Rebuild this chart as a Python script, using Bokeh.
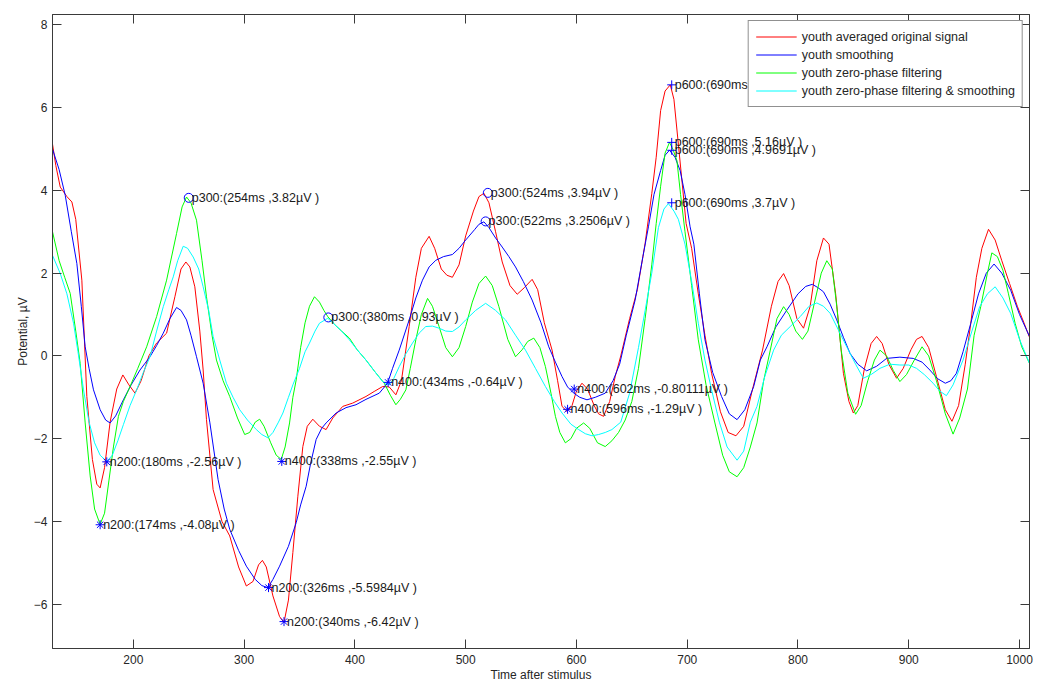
from bokeh.plotting import figure
from bokeh.models import (LinearAxis, FixedTicker, Range1d, Legend, LegendItem,
                          ColumnDataSource)
from bokeh.core.properties import value
from bokeh.embed import file_html
from bokeh.resources import INLINE

# ---------------- data ----------------
orig_t = [127, 130, 134, 140, 144.5, 148, 153.5, 158, 163, 167, 170, 174, 179, 185, 190.5, 196, 201.5,
          207, 214, 221, 230, 237.5, 243, 247.4, 251, 255.5, 260, 263, 266, 272, 280, 287, 295, 302,
          308, 313, 316.5, 320, 326, 332, 336, 340, 344, 348.5, 353, 357, 362, 368, 374, 380, 389, 398,
          410, 418, 425, 431, 437, 442, 449, 455, 460, 467, 472, 478, 483, 488, 494, 500, 507, 512,
          516.5, 521, 527, 533, 540, 546.5, 553, 560, 565, 571, 578, 583, 587, 591.5, 596, 600, 605,
          610, 616, 620, 624.5, 630, 635, 640, 648, 655, 662, 668, 672, 676, 680, 684.7, 688, 692, 699,
          704, 710, 716, 722, 730, 737, 744, 751, 759, 768, 776, 782, 787, 792, 799, 805, 811, 817,
          823, 828, 834, 841, 846, 850, 854, 860, 866, 871, 876, 882, 889, 895, 902, 907, 912, 918,
          925, 933, 939, 945, 951, 956, 961, 966, 972, 978, 984, 991, 998, 1004, 1009]
orig_v = [5.12, 4.6, 4.08, 3.85, 3.72, 3.3, 1.83, -0.98, -2.5, -3.1, -3.19, -2.7, -1.6, -0.8, -0.46, -0.7,
          -0.9, -0.6, 0.0, 0.31, 0.55, 1.43, 2.1, 2.27, 2.15, 1.67, 0.6, -0.34, -1.54, -3.23, -4.0, -4.35,
          -5.1, -5.56, -5.45, -5.05, -4.94, -5.1, -5.8, -6.3, -6.44, -5.9, -4.75, -3.39, -2.19, -1.7,
          -1.53, -1.7, -1.78, -1.5, -1.22, -1.14, -0.98, -0.85, -0.74, -0.75, -0.94, -0.6, 0.71, 1.9,
          2.6, 2.89, 2.6, 2.1, 1.95, 1.9, 2.2, 2.9, 3.5, 3.85, 3.93, 3.7, 3.0, 2.27, 1.7, 1.49, 1.65,
          1.85, 1.6, 0.8, 0.14, -0.6, -1.22, -1.34, -1.2, -0.85, -0.66, -0.8, -1.2, -1.4, -1.46, -1.1,
          -0.5, 0.0, 0.9, 1.6, 2.72, 3.92, 4.8, 5.93, 6.4, 6.55, 6.2, 5.12, 3.2, 2.6, 1.5, 0.5, -0.42,
          -1.35, -1.85, -1.93, -1.7, -0.8, 0.14, 1.2, 1.8, 1.99, 1.7, 0.9, 0.67, 1.2, 2.3, 2.85, 2.7,
          1.5, -0.42, -1.1, -1.38, -1.2, -0.3, 0.3, 0.47, 0.3, -0.2, -0.54, -0.3, 0.15, 0.4, 0.47, 0.2,
          -0.5, -1.3, -1.58, -1.2, -0.2, 0.79, 1.9, 2.6, 3.06, 2.8, 2.3, 1.75, 1.2, 0.8, 0.45]

smooth_t = [127, 133, 138.5, 144, 149, 153, 156.5, 160, 164, 170, 175, 179, 184, 191, 198, 206, 215, 221,
            227, 233, 239, 243, 248, 252, 257, 263, 269, 276.5, 282, 287, 295, 302, 310, 316, 321.5,
            326, 332, 340, 347, 351, 356, 360, 365, 370, 374, 383, 392, 401, 410, 422, 429.5, 434, 440,
            449, 455, 461, 467, 473, 480, 488, 494, 500, 508, 512, 516.5, 521, 527, 533, 539, 545, 552,
            560, 568, 575, 581, 587, 592, 597.6, 603, 609.5, 617, 626, 633, 639, 645, 653, 660, 665, 670,
            676, 680, 684, 689, 693.6, 698, 702.6, 706, 711, 716, 723, 731, 738, 745, 752, 760, 766, 772,
            780, 790, 800, 807, 813, 818, 823, 829, 835, 841, 847, 854, 862, 871, 880, 892, 904, 912, 919,
            926, 933, 938, 943, 949, 956, 963, 970, 977, 984, 992, 1000, 1009]
smooth_v = [5.0, 4.5, 3.88, 3.0, 2.23, 1.2, 0.22, -0.3, -0.82, -1.3, -1.55, -1.62, -1.45, -1.06, -0.7,
            -0.34, -0.02, 0.25, 0.55, 0.9, 1.17, 1.1, 0.87, 0.5, -0.02, -0.66, -1.6, -2.99, -3.7, -4.19,
            -4.7, -5.08, -5.4, -5.55, -5.6, -5.4, -5.08, -4.6, -4.03, -3.6, -3.15, -2.6, -2.02, -1.75,
            -1.62, -1.38, -1.25, -1.18, -1.05, -0.9, -0.66, -0.3, 0.14, 0.87, 1.4, 1.83, 2.15, 2.31, 2.4,
            2.45, 2.6, 2.8, 3.05, 3.18, 3.24, 3.1, 2.85, 2.63, 2.4, 2.15, 1.8, 1.35, 0.8, 0.22, -0.15,
            -0.5, -0.75, -0.9, -1.0, -1.06, -1.0, -0.9, -0.6, -0.2, 0.5, 1.35, 2.4, 3.12, 3.9, 4.48, 4.85,
            4.97, 4.8, 4.48, 3.9, 3.12, 2.7, 1.5, 0.39, -0.4, -0.98, -1.4, -1.54, -1.3, -0.74, -0.1, 0.22,
            0.7, 1.11, 1.5, 1.68, 1.73, 1.65, 1.55, 1.25, 0.87, 0.45, 0.06, -0.2, -0.36, -0.25, -0.06,
            -0.03, -0.06, -0.15, -0.34, -0.55, -0.66, -0.6, -0.42, 0.1, 0.79, 1.5, 2.0, 2.22, 2.0, 1.59,
            1.0, 0.47]

zp_t = [127, 133, 138, 143, 148, 152, 156.5, 161, 165, 170, 174, 178, 182, 186.5, 191, 197, 204, 212, 221,
        230, 239, 244, 248, 252, 257, 262, 266, 271, 275, 281, 287, 294, 300.5, 305, 310, 314, 318, 324,
        329, 333.5, 337, 341, 344, 347, 351, 355, 359, 363.5, 368, 372, 375.5, 382, 388, 395, 402, 410,
        418, 426.5, 432, 437, 441, 446, 450, 455, 460, 465.6, 470, 476, 482, 488, 494, 500, 506, 512, 518,
        524, 530, 538, 545, 551, 556, 561.5, 567, 572, 577, 581, 585, 590, 595, 600, 606.5, 612, 619, 626,
        632, 638, 644, 650, 656, 662, 668, 672, 676, 680, 684, 687, 690.7, 694, 698, 704, 710, 717, 725,
        732, 738, 745, 751, 757, 763, 769, 775, 781, 787, 792, 798, 804, 809, 815, 821, 826, 831, 835,
        839, 845, 852, 857, 863, 869, 874, 880, 886, 892, 898, 905, 912, 918, 925, 933, 940, 946, 953,
        959, 965, 971, 975, 980, 985, 990, 996, 1002, 1009]
zp_v = [3.0, 2.3, 1.9, 1.51, 0.6, -0.18, -1.62, -2.9, -3.7, -4.07, -3.8, -3.0, -2.2, -1.46, -1.1, -0.74,
        -0.3, 0.22, 0.95, 1.83, 2.96, 3.6, 3.84, 3.7, 3.28, 2.3, 1.43, 0.5, -0.1, -0.6, -0.98, -1.5, -1.9,
        -1.85, -1.6, -1.53, -1.7, -2.1, -2.4, -2.5, -2.2, -1.62, -1.0, -0.58, 0.2, 0.8, 1.2, 1.43, 1.3,
        1.1, 0.95, 0.75, 0.6, 0.43, 0.15, -0.1, -0.38, -0.66, -0.95, -1.18, -1.05, -0.82, -0.3, 0.39, 1.0,
        1.39, 1.2, 0.71, 0.2, -0.02, 0.2, 0.71, 1.3, 1.75, 1.93, 1.7, 1.19, 0.4, -0.02, 0.15, 0.35, 0.43,
        0.2, -0.26, -0.9, -1.46, -1.85, -2.1, -2.0, -1.75, -1.62, -1.75, -2.1, -2.19, -2.05, -1.85, -1.55,
        -1.1, -0.3, 0.9, 2.2, 3.2, 4.1, 4.9, 5.16, 5.0, 4.72, 3.9, 3.0, 1.7, 0.39, -0.7, -1.62, -2.4,
        -2.8, -2.92, -2.7, -2.2, -1.62, -0.6, 0.14, 0.9, 1.19, 1.0, 0.6, 0.4, 0.6, 1.3, 2.0, 2.3, 2.1,
        1.2, 0.14, -0.9, -1.41, -1.2, -0.6, -0.1, 0.14, 0.0, -0.35, -0.62, -0.45, -0.1, 0.22, 0.0, -0.6,
        -1.4, -1.89, -1.5, -0.8, 0.5, 1.19, 2.0, 2.49, 2.4, 2.07, 1.5, 0.79, 0.22, -0.18]

zps_t = [127, 134, 140, 146, 150, 155, 160, 165, 170, 176, 181, 186, 191, 197, 203, 209, 215, 221, 227,
         232, 236, 240, 245, 249, 254, 259, 263, 268, 272, 278, 284, 290, 296, 303, 311, 316, 321.5, 326,
         331, 335, 340, 344, 350, 355, 359, 364, 368, 375.5, 382, 388, 395, 402, 410, 418, 425, 431, 435,
         440, 446, 452, 458, 464, 470, 476, 482, 488, 494, 500, 509, 518, 527, 536, 545, 554, 563, 572,
         580, 587, 595, 602, 608, 614, 620, 626, 632, 640, 648, 656, 662, 668, 674, 679, 683, 688, 692,
         698, 704, 710, 716, 722, 729, 736, 745, 751, 757, 763, 770, 778, 785, 793, 802, 810, 817, 823,
         829, 837, 844, 852, 859, 866, 874, 883, 892, 900, 907, 914, 922, 928, 934, 940, 949, 957, 964,
         971, 978, 985, 992, 1000, 1009]
zps_v = [2.43, 1.99, 1.5, 0.79, 0.1, -0.82, -1.6, -2.1, -2.4, -2.55, -2.4, -2.05, -1.66, -1.2, -0.82,
         -0.4, -0.02, 0.6, 1.19, 1.6, 1.91, 2.3, 2.65, 2.6, 2.39, 2.1, 1.67, 1.1, 0.47, -0.1, -0.66, -1.0,
         -1.3, -1.55, -1.78, -1.9, -1.98, -1.85, -1.6, -1.38, -1.0, -0.7, -0.3, 0.1, 0.31, 0.6, 0.79, 0.91,
         0.75, 0.6, 0.39, 0.15, -0.1, -0.38, -0.62, -0.7, -0.55, -0.26, 0.05, 0.31, 0.55, 0.71, 0.72, 0.67,
         0.6, 0.59, 0.7, 0.87, 1.1, 1.27, 1.1, 0.87, 0.5, 0.14, -0.3, -0.74, -1.1, -1.38, -1.65, -1.78,
         -1.88, -1.93, -1.9, -1.85, -1.78, -1.6, -0.9, 0.2, 1.1, 2.0, 3.1, 3.55, 3.68, 3.5, 3.3, 2.7, 1.8,
         0.79, -0.1, -0.82, -1.6, -2.2, -2.52, -2.3, -1.6, -1.22, -0.5, 0.14, 0.5, 0.71, 0.95, 1.2, 1.28,
         1.2, 1.03, 0.6, 0.22, -0.2, -0.54, -0.45, -0.3, -0.2, -0.22, -0.22, -0.3, -0.45, -0.66, -0.85,
         -0.96, -0.7, -0.1, 0.6, 1.19, 1.5, 1.67, 1.4, 1.03, 0.4, -0.18]

series_names = ["youth averaged original signal", "youth smoothing",
                "youth zero-phase filtering", "youth zero-phase filtering & smoothing"]
series_colors = ["#ff0000", "#0000ff", "#00ff00", "#00ffff"]

# peak annotations: marker position as drawn, label text
peak_x = [176, 170, 250, 334, 322, 336, 376, 430, 520, 518, 598, 592, 686, 686, 686, 686]
peak_y = [-2.56, -4.08, 3.82, -2.55, -5.5984, -6.42, 0.93, -0.64, 3.94, 3.2506, -0.80111, -1.29,
          6.55, 5.16, 4.9691, 3.7]
peak_kind = ["n", "n", "p300", "n", "n", "n", "p300", "n", "p300", "p300", "n", "n",
             "p600", "p600", "p600", "p600"]
peak_label = ["n200:(180ms ,-2.56µV )", "n200:(174ms ,-4.08µV )", "p300:(254ms ,3.82µV )",
              "n400:(338ms ,-2.55µV )", "n200:(326ms ,-5.5984µV )", "n200:(340ms ,-6.42µV )",
              "p300:(380ms ,0.93µV )", "n400:(434ms ,-0.64µV )", "p300:(524ms ,3.94µV )",
              "p300:(522ms ,3.2506µV )", "n400:(602ms ,-0.80111µV )", "n400:(596ms ,-1.29µV )",
              "p600:(690ms ,6.55µV )", "p600:(690ms ,5.16µV )", "p600:(690ms ,4.9691µV )",
              "p600:(690ms ,3.7µV )"]

x_ticks = [200, 300, 400, 500, 600, 700, 800, 900, 1000]
y_ticks = [-6, -4, -2, 0, 2, 4, 6, 8]

# ---------------- figure ----------------
FONT = "Liberation Sans"
AX = "#3a3a3a"
TXT = "#262626"

p = figure(width=1047, height=684, output_backend="svg", toolbar_location=None,
           x_range=Range1d(127, 1009), y_range=Range1d(-7.07, 8.25),
           min_border_left=52, min_border_right=18, min_border_top=14, min_border_bottom=35,
           x_axis_label="Time after stimulus", y_axis_label="Potential, µV")
p.xgrid.visible = False
p.ygrid.visible = False
p.background_fill_color = "white"
p.border_fill_color = "white"
p.outline_line_color = AX

for ax in p.xaxis + p.yaxis:
    ax.major_tick_in = 9
    ax.major_tick_out = 0
    ax.minor_tick_line_color = None
    ax.axis_line_color = AX
    ax.major_tick_line_color = AX
    ax.major_label_text_font = FONT
    ax.major_label_text_font_size = "12px"
    ax.major_label_text_color = TXT
    ax.axis_label_text_font = FONT
    ax.axis_label_text_font_size = "12px"
    ax.axis_label_text_font_style = "normal"
    ax.axis_label_text_color = TXT
p.xaxis.ticker = FixedTicker(ticks=x_ticks)
p.yaxis.ticker = FixedTicker(ticks=y_ticks)
p.xaxis.major_label_standoff = 6
p.xaxis.axis_label_standoff = 1
p.yaxis.major_label_standoff = 5
p.yaxis.axis_label_standoff = 1

top = LinearAxis(ticker=FixedTicker(ticks=x_ticks))
right = LinearAxis(ticker=FixedTicker(ticks=y_ticks))
for ax, tks in ((top, x_ticks), (right, y_ticks)):
    ax.major_tick_in = 9
    ax.major_tick_out = 0
    ax.minor_tick_line_color = None
    ax.axis_line_color = AX
    ax.major_tick_line_color = AX
    ax.major_label_overrides = {t: "" for t in tks}
    ax.major_label_standoff = 0
p.add_layout(top, "above")
p.add_layout(right, "right")

items = []
for t, v, name, col in zip([orig_t, smooth_t, zp_t, zps_t], [orig_v, smooth_v, zp_v, zps_v],
                           series_names, series_colors):
    r = p.line(t, v, line_color=col, line_width=1)
    items.append(LegendItem(label=name, renderers=[r]))

marker_map = {"n": "asterisk", "p300": "circle", "p600": "cross"}
src = ColumnDataSource(dict(x=peak_x, y=peak_y, m=[marker_map[k] for k in peak_kind], t=peak_label))
p.scatter("x", "y", source=src, marker="m", size=9, line_color="#0000ff", fill_color=None,
          line_width=1)
p.text("x", "y", text="t", source=src, x_offset=3, text_baseline="middle", text_align="left",
       text_font=value(FONT), text_font_size="12.5px", text_color="#1a1a1a")

legend = Legend(items=items, location="top_right", label_text_font=FONT, label_text_font_size="12.5px",
                label_text_color=TXT, glyph_width=41, glyph_height=17, label_height=17, spacing=1,
                padding=7, margin=6, border_line_color="#222222", background_fill_alpha=1.0,
                label_standoff=5)
p.add_layout(legend)

open("out.html", "w").write(file_html(p, INLINE))
